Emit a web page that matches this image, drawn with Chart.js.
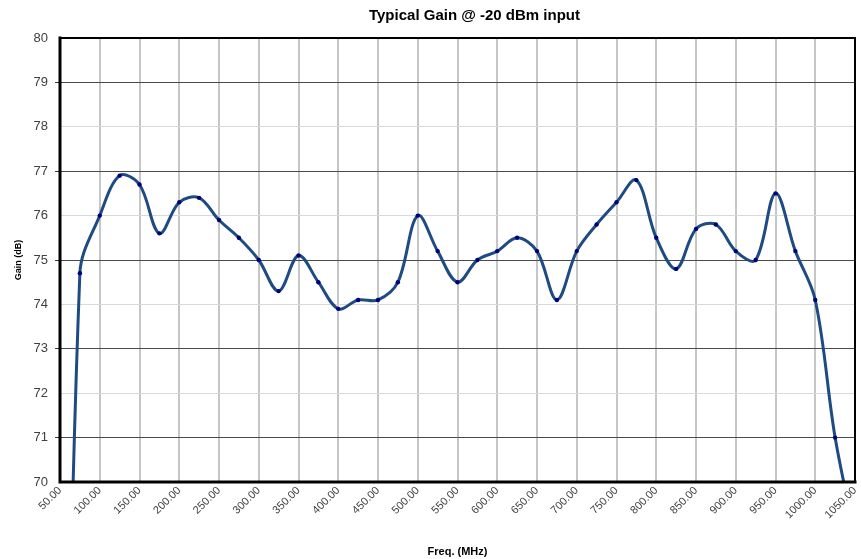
<!DOCTYPE html>
<html>
<head>
<meta charset="utf-8">
<script src="https://cdn.jsdelivr.net/npm/chart.js@4/dist/chart.umd.min.js"></script>
<style>
  html, body { margin: 0; padding: 0; background: #ffffff; }
  #wrap { width: 861px; height: 559px; }
</style>
</head>
<body>
<div id="wrap"><canvas id="c" width="861" height="559"></canvas></div>
<script>
const titleText = 'Typical Gain @ -20 dBm input';
const xTitle = 'Freq. (MHz)';
const yTitle = 'Gain (dB)';

const freqs = [50, 75, 100, 125, 150, 175, 200, 225, 250, 275, 300, 325, 350, 375, 400, 425, 450, 475, 500, 525, 550, 575, 600, 625, 650, 675, 700, 725, 750, 775, 800, 825, 850, 875, 900, 925, 950, 975, 1000, 1025, 1050];
const gain = [53.0, 74.7, 76.0, 76.9, 76.7, 75.6, 76.3, 76.4, 75.9, 75.5, 75.0, 74.3, 75.1, 74.5, 73.9, 74.1, 74.1, 74.5, 76.0, 75.2, 74.5, 75.0, 75.2, 75.5, 75.2, 74.1, 75.2, 75.8, 76.3, 76.8, 75.5, 74.8, 75.7, 75.8, 75.2, 75.0, 76.5, 75.2, 74.1, 71.0, 68.8];

const xMin = 50, xMax = 1050, xStep = 50;
const yMin = 70, yMax = 80, yStep = 1;

const FONT = '"Liberation Sans", Arial, sans-serif';

const points = freqs.map((f, i) => ({ x: f, y: gain[i] }));

const decorPlugin = {
  id: 'decor',
  afterDraw(chart) {
    const { ctx, chartArea: a } = chart;
    ctx.save();
    ctx.strokeStyle = '#000';
    ctx.lineCap = 'square';
    ctx.lineWidth = 2;
    ctx.beginPath();
    ctx.moveTo(a.left, a.top); ctx.lineTo(a.right, a.top); ctx.lineTo(a.right, a.bottom);
    ctx.stroke();
    ctx.lineWidth = 3;
    ctx.beginPath();
    ctx.moveTo(a.left, a.top); ctx.lineTo(a.left, a.bottom); ctx.lineTo(a.right, a.bottom);
    ctx.stroke();
    ctx.fillStyle = '#000';
    ctx.font = 'bold 15px ' + FONT;
    ctx.textAlign = 'center';
    ctx.textBaseline = 'middle';
    ctx.fillText(titleText, (a.left + a.right) / 2 + 17, 16);
    ctx.restore();
  }
};

new Chart(document.getElementById('c'), {
  type: 'line',
  data: {
    datasets: [{
      data: points,
      borderColor: '#1d4b82',
      borderWidth: 3,
      tension: 0.35,
      pointRadius: 2.2,
      pointBackgroundColor: '#00007a',
      pointBorderColor: '#00007a',
      pointBorderWidth: 0,
      fill: false
    }]
  },
  options: {
    responsive: false,
    devicePixelRatio: 1,
    animation: false,
    layout: { padding: { top: 38, right: 6, left: 0, bottom: 0 } },
    plugins: {
      legend: { display: false },
      title: { display: false },
      tooltip: { enabled: false }
    },
    scales: {
      x: {
        type: 'linear',
        min: xMin, max: xMax,
        afterFit(s) { s.height = 77; s.paddingLeft = 0; s.paddingRight = 0; },
        ticks: {
          stepSize: xStep,
          autoSkip: false,
          minRotation: 45, maxRotation: 45,
          padding: 2,
          color: '#404040',
          font: { family: FONT, size: 11 },
          callback: v => Number(v).toFixed(2)
        },
        grid: {
          drawTicks: false,
          lineWidth: 2,
          color: c => (c.tick && (c.tick.value === xMin || c.tick.value === xMax)) ? 'rgba(0,0,0,0)' : '#c6c6c6'
        },
        border: { display: false },
        title: {
          display: true, text: xTitle,
          color: '#000',
          font: { family: FONT, size: 11, weight: 'bold' },
          padding: { top: 3, bottom: 0 }
        }
      },
      y: {
        min: yMin, max: yMax,
        afterFit(s) { s.width = 60; },
        ticks: {
          stepSize: yStep,
          padding: 7,
          color: '#404040',
          font: { family: FONT, size: 13 },
          callback: v => String(v)
        },
        grid: {
          lineWidth: 1,
          tickLength: 5,
          color: c => (c.tick && c.tick.value % 2 === 1) ? '#4a4a4a' : '#d9d9d9',
          tickColor: c => (c.tick && c.tick.value % 2 === 1) ? '#333333' : 'rgba(0,0,0,0)'
        },
        border: { display: false },
        title: {
          display: true, text: yTitle,
          color: '#000',
          font: { family: FONT, size: 9, weight: 'bold' },
          padding: { top: 13, bottom: 0 }
        }
      }
    }
  },
  plugins: [decorPlugin]
});
</script>
</body>
</html>
